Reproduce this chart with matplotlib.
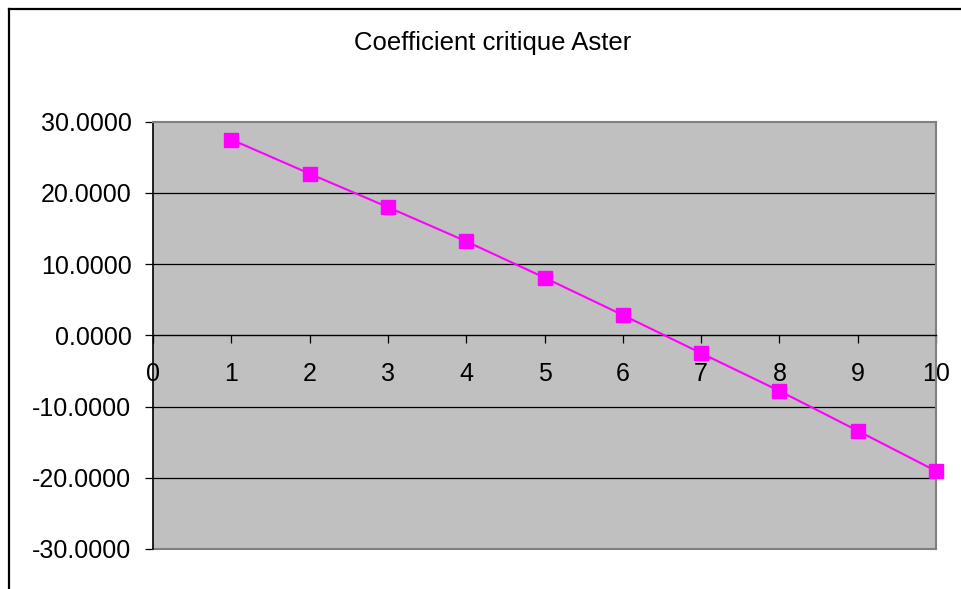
import matplotlib
matplotlib.use("Agg")
import matplotlib.pyplot as plt
from matplotlib.lines import Line2D
from matplotlib.ticker import FormatStrFormatter

plt.rcParams['font.family'] = ['Liberation Sans', 'DejaVu Sans']
plt.rcParams['axes.unicode_minus'] = False

# data
points = [1, 2, 3, 4, 5, 6, 7, 8, 9, 10]
coef = [27.5, 22.7, 18.0, 13.2, 8.1, 2.85, -2.5, -7.8, -13.4, -19.05]
y_ticks = [-30, -20, -10, 0, 10, 20, 30]
x_ticks = [0, 1, 2, 3, 4, 5, 6, 7, 8, 9, 10]
title = 'Coefficient critique Aster'

W, H = 962, 589
fig = plt.figure(figsize=(W / 100, H / 100), dpi=100)

# plot area in pixels: left 153, right 936, top 121.7, bottom 549
ax = fig.add_axes([153 / W, (H - 549) / H, (936 - 153) / W, (549 - 121.7) / H])
ax.set_facecolor('#C0C0C0')

ax.set_xlim(0, 10)
ax.set_ylim(-30, 30)
ax.set_xticks(x_ticks)
ax.set_yticks(y_ticks)
ax.yaxis.set_major_formatter(FormatStrFormatter('%.4f'))

for v in [-20, -10, 10, 20]:
    ax.axhline(v, color='black', lw=0.9, zorder=1)

ax.plot(points, coef, color='#FF00FF', lw=1.5, marker='s', markersize=9.5,
        markerfacecolor='#FF00FF', markeredgecolor='#FF00FF', clip_on=False, zorder=3)

# borders: value axis on the left, category axis crossing at zero
ax.spines['left'].set_color('black')
ax.spines['left'].set_linewidth(1.2)
ax.spines['left'].set_zorder(2)
ax.spines['bottom'].set_position(('data', 0))
ax.spines['bottom'].set_color('black')
ax.spines['bottom'].set_linewidth(1.0)
ax.spines['top'].set_color('#808080')
ax.spines['top'].set_linewidth(1.5)
ax.spines['right'].set_color('#808080')
ax.spines['right'].set_linewidth(1.5)

# gray bottom border of plot area (bottom spine moved to zero)
ax.plot([0, 10], [-30, -30], color='#808080', lw=1.5, clip_on=False, zorder=2)

ax.tick_params(axis='y', direction='out', length=5.5, width=0.9, pad=10,
               labelsize=18, colors='black')
ax.tick_params(axis='x', direction='out', length=6, width=0.9, pad=13,
               labelsize=18, colors='black')

fig.text(493 / W, 1 - 50 / H, title, ha='center', va='baseline', fontsize=18.5)

# chart frame (extends past the right and bottom edges)
fig.add_artist(Line2D([9 / W, 9 / W], [0, 1 - 9 / H], transform=fig.transFigure,
                      color='black', lw=1.6))
fig.add_artist(Line2D([9 / W, 1], [1 - 9 / H, 1 - 9 / H], transform=fig.transFigure,
                      color='black', lw=1.6))

fig.savefig('out.png', dpi=100, facecolor='white')
